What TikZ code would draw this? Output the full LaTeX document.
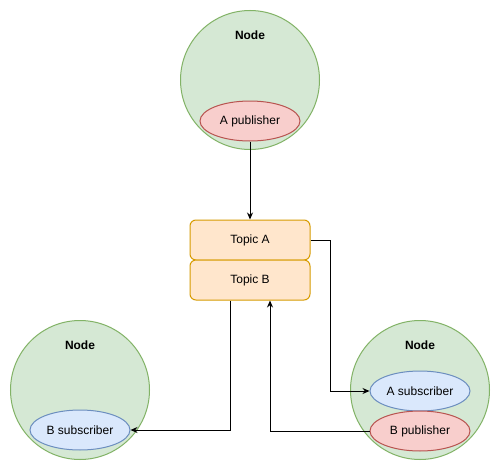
\documentclass[tikz,border=0pt]{standalone}
\usepackage{fontspec}
\setmainfont{Liberation Sans}
\usetikzlibrary{arrows.meta,shapes.geometric}
\definecolor{hostfill}{HTML}{D5E8D4}
\definecolor{hostline}{HTML}{82B366}
\definecolor{pubfill}{HTML}{F8CECC}
\definecolor{publine}{HTML}{B85450}
\definecolor{subfill}{HTML}{DAE8FC}
\definecolor{subline}{HTML}{6C8EBF}
\definecolor{topicfill}{HTML}{FFE6CC}
\definecolor{topicline}{HTML}{D79B00}
\begin{document}
\begin{tikzpicture}[x=1pt,y=-1pt,
  every node/.style={font=\fontsize{12}{14}\selectfont, inner sep=0pt, line width=1pt},
  host/.style={circle, draw=hostline, fill=hostfill, minimum size=139pt},
  hostlabel/.style={font=\fontsize{12}{14}\selectfont\bfseries},
  endpoint/.style={ellipse, minimum width=100pt, minimum height=40pt},
  pub/.style={endpoint, draw=publine, fill=pubfill},
  sub/.style={endpoint, draw=subline, fill=subfill},
  topic/.style={rectangle, rounded corners=6pt, draw=topicline, fill=topicfill,
    minimum width=120pt, minimum height=40pt},
  conn/.style={line width=1pt, -{Stealth[length=7pt,width=6pt]}}
]
\useasboundingbox[fill=white] (0,0) rectangle (501,471);

% host circles
\node[host] (hostTop) at (250,80) {};
\node[host] (hostLeft) at (80,390) {};
\node[host] (hostRight) at (420,390) {};
\node[hostlabel] (labTop) at (250,35) {Node};
\node[hostlabel] (labLeft) at (80,345) {Node};
\node[hostlabel] (labRight) at (420,345) {Node};

% endpoints
\node[pub] (apub) at (250,121) {A publisher};
\node[sub] (bsub) at (80,430) {B subscriber};
\node[sub] (asub) at (420,391) {A subscriber};
\node[pub] (bpub) at (420,431) {B publisher};

% topics
\node[topic] (tA) at (250,240) {Topic A};
\node[topic] (tB) at (250,280) {Topic B};

% connectors
\draw[conn] (apub.south) -- (tA.north);
\draw[conn] (tA.east) -- ++(20,0) |- (asub.west);
\draw[conn] ([xshift=-20pt]tB.south) |- (bsub.east);
\draw[conn] (bpub.west) -| ([xshift=20pt]tB.south);
\end{tikzpicture}
\end{document}
